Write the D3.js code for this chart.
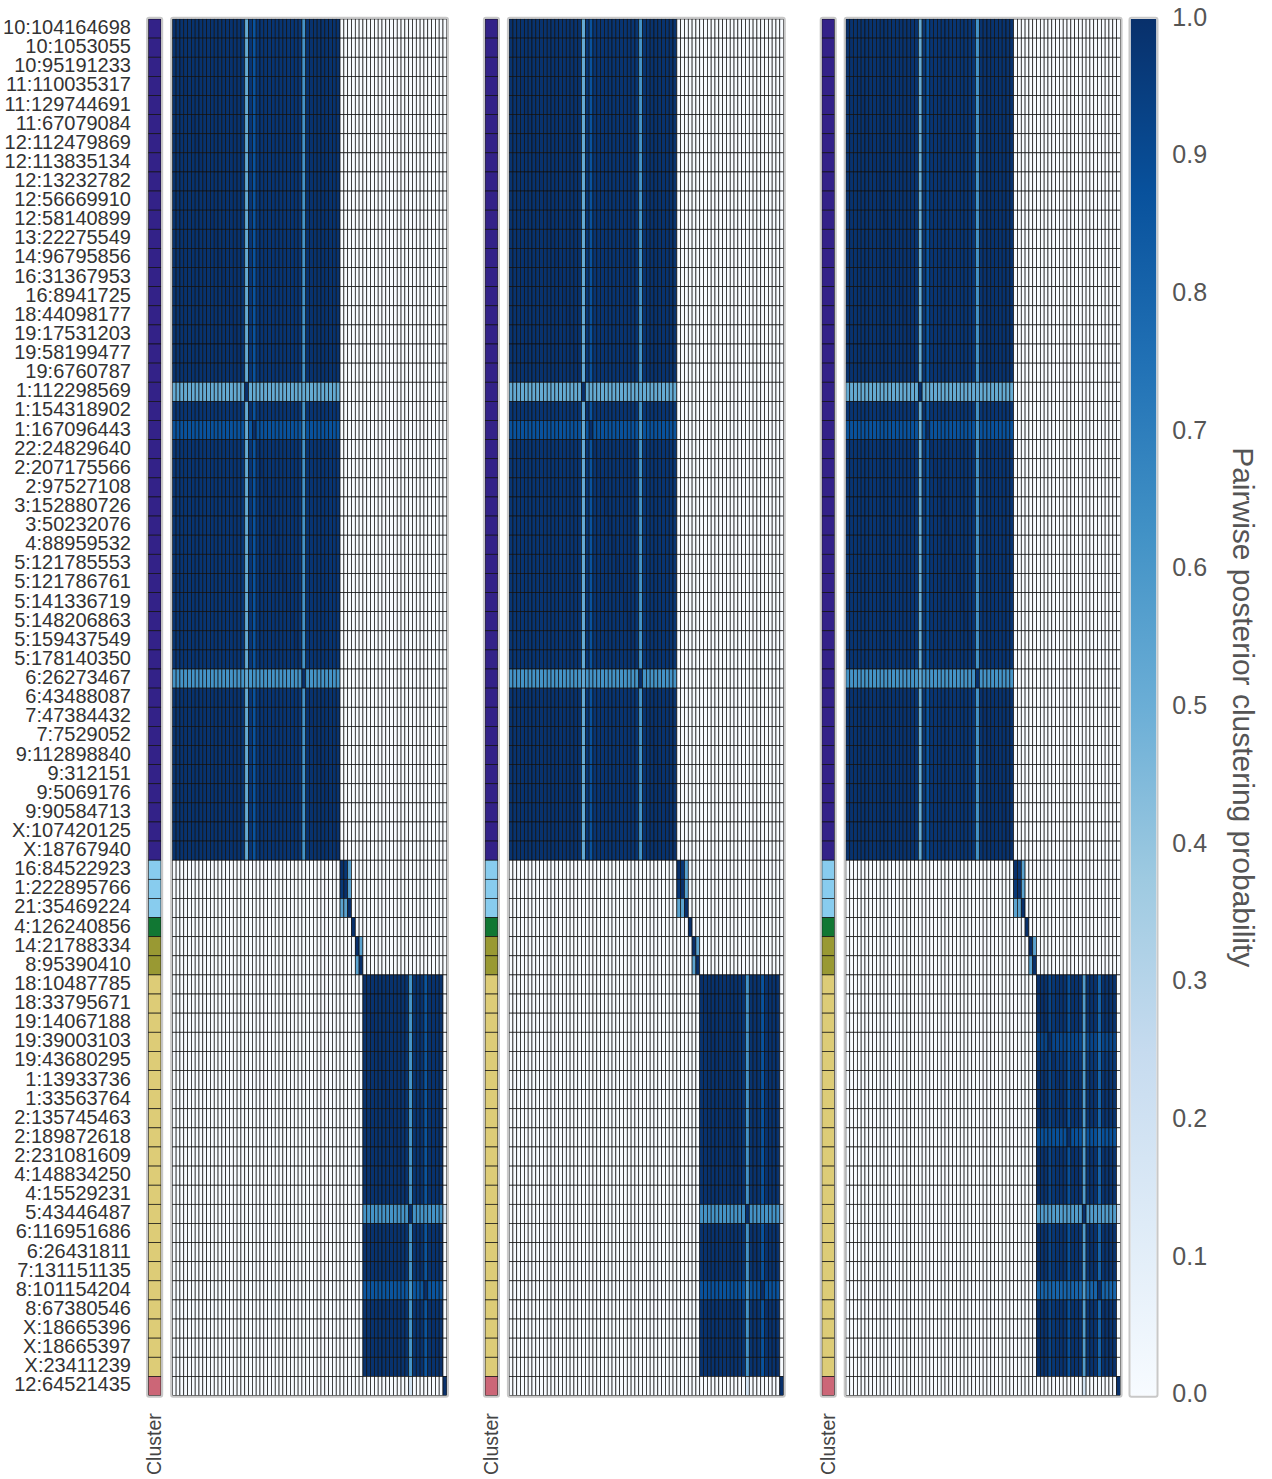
<!DOCTYPE html>
<html>
<head>
<meta charset="utf-8">
<script src="https://cdn.jsdelivr.net/npm/d3@7"></script>
<style>
  body { margin: 0; background: white; }
  text { font-family: "Liberation Sans", Arial, sans-serif; }
</style>
</head>
<body>
<div id="chart"></div>
<script>
// row / column labels (same order on both axes)
const rowLabels = [
  "10:104164698","10:1053055","10:95191233","11:110035317","11:129744691","11:67079084",
  "12:112479869","12:113835134","12:13232782","12:56669910","12:58140899","13:22275549",
  "14:96795856","16:31367953","16:8941725","18:44098177","19:17531203","19:58199477",
  "19:6760787","1:112298569","1:154318902","1:167096443","22:24829640","2:207175566",
  "2:97527108","3:152880726","3:50232076","4:88959532","5:121785553","5:121786761",
  "5:141336719","5:148206863","5:159437549","5:178140350","6:26273467","6:43488087",
  "7:47384432","7:7529052","9:112898840","9:312151","9:5069176","9:90584713",
  "X:107420125","X:18767940","16:84522923","1:222895766","21:35469224","4:126240856",
  "14:21788334","8:95390410","18:10487785","18:33795671","19:14067188","19:39003103",
  "19:43680295","1:13933736","1:33563764","2:135745463","2:189872618","2:231081609",
  "4:148834250","4:15529231","5:43446487","6:116951686","6:26431811","7:131151135",
  "8:101154204","8:67380546","X:18665396","X:18665397","X:23411239","12:64521435"
]

// cluster of each row
const clusters = [
  0,0,0,0,0,0,0,0,0,0,0,0,0,0,0,0,0,0,0,0,0,0,0,0,0,0,0,0,0,0,0,0,0,0,0,0,0,0,0,0,0,0,0,0,
  1,1,1, 2, 3,3,
  4,4,4,4,4,4,4,4,4,4,4,4,4,4,4,4,4,4,4,4,4,
  5
]
const clusterColors = ["#332288", "#88CCEE", "#117733", "#999933", "#DDCC77", "#CC6677"]

// how strongly each row sits in its cluster, one list per panel
const panel1 = [
  0.99,0.99,0.99,0.99,0.99,0.99,0.99,0.99,0.99,0.99,0.99,0.99,0.99,0.99,0.99,0.99,0.99,0.99,0.99,
  0.52,0.98,0.87,0.98,0.98,0.98,0.98,0.98,0.98,0.98,0.98,0.98,0.98,0.98,0.98,0.62,
  0.99,0.99,0.99,0.99,0.99,0.99,0.99,0.99,0.99,
  0.97,0.97,0.55, 1, 0.55,0.55,
  0.99,0.99,0.99,0.99,0.99,0.99,0.99,0.99,0.99,0.99,0.99,0.99,0.62,0.99,0.99,0.99,0.86,0.99,0.99,0.99,0.99,
  1
]
const panel2 = [
  0.99,0.99,0.99,0.99,0.99,0.99,0.99,0.99,0.99,0.99,0.99,0.99,0.99,0.99,0.99,0.99,0.99,0.99,0.99,
  0.52,0.98,0.87,0.98,0.98,0.98,0.98,0.98,0.98,0.98,0.98,0.98,0.98,0.98,0.98,0.62,
  0.99,0.99,0.99,0.99,0.99,0.99,0.99,0.99,0.99,
  0.97,0.97,0.55, 1, 0.55,0.55,
  0.99,0.99,0.99,0.99,0.99,0.99,0.99,0.99,0.99,0.99,0.99,0.99,0.62,0.99,0.99,0.99,0.87,0.99,0.99,0.99,0.99,
  1
]
const panel3 = [
  0.99,0.99,0.99,0.99,0.99,0.99,0.99,0.99,0.99,0.99,0.99,0.99,0.99,0.99,0.99,0.99,0.99,0.99,0.99,
  0.52,0.98,0.87,0.98,0.98,0.98,0.98,0.98,0.98,0.98,0.98,0.98,0.98,0.98,0.98,0.62,
  0.99,0.99,0.99,0.99,0.99,0.99,0.99,0.99,0.99,
  0.97,0.97,0.55, 1, 0.55,0.55,
  0.99,0.99,0.99,0.92,0.97,0.99,0.99,0.99,0.88,0.99,0.99,0.99,0.58,0.99,0.99,0.99,0.80,0.99,0.99,0.99,0.99,
  1
]
// pairs across clusters that still got some probability: [row, col, value] (1-based)
const crossPairs = [[72, 63, 0.18]]

const cbTicks = [0, 0.1, 0.2, 0.3, 0.4, 0.5, 0.6, 0.7, 0.8, 0.9, 1.0]
const bluesStops = ["#f7fbff","#deebf7","#c6dbef","#9ecae1","#6baed6","#4292c6","#2171b5","#08519c","#08306b"]

const n = rowLabels.length
const topY = 19, bottomY = 1395.5

const svg = d3.select("#chart").append("svg")
    .attr("width", 1272)
    .attr("height", 1479)

const color = d3.scaleLinear()
    .domain(bluesStops.map((c, i) => i / (bluesStops.length - 1)))
    .range(bluesStops)
    .clamp(true)

const y = d3.scaleBand().domain(d3.range(n)).range([topY, bottomY])

function buildMatrix(cert) {
    let m = []
    for (let i = 0; i < n; i++) {
        let row = []
        for (let j = 0; j < n; j++) {
            if (i == j) row.push(1)
            else if (clusters[i] == clusters[j]) row.push(Math.min(cert[i], cert[j]))
            else row.push(0)
        }
        m.push(row)
    }
    crossPairs.forEach(p => {
        m[p[0] - 1][p[1] - 1] = p[2]
        m[p[1] - 1][p[0] - 1] = p[2]
    })
    return m
}

const panels = [panel1, panel2, panel3]
const panelStep = 336.8

panels.forEach((cert, k) => {
    const off = k * panelStep
    const barX = 148.3 + off, barW = 12.7
    const hx0 = 172.3 + off, hx1 = 446.8 + off
    const x = d3.scaleBand().domain(d3.range(n)).range([hx0, hx1])
    const g = svg.append("g").attr("class", "panel")

    // cluster side bar
    g.selectAll(".clu")
        .data(clusters)
        .join("rect")
        .attr("class", "clu")
        .attr("x", barX)
        .attr("y", (d, i) => y(i))
        .attr("width", barW)
        .attr("height", y.bandwidth())
        .attr("fill", d => clusterColors[d])
        .attr("stroke", "#111")
        .attr("stroke-width", 0.7)

    g.append("rect")
        .attr("x", barX - 1.2).attr("y", topY - 1.2)
        .attr("width", barW + 2.4).attr("height", bottomY - topY + 2.4)
        .attr("rx", 2)
        .attr("fill", "none").attr("stroke", "#c8c8c8").attr("stroke-width", 2)

    // heatmap cells
    const m = buildMatrix(cert)
    const cells = []
    m.forEach((row, i) => row.forEach((v, j) => cells.push({ i: i, j: j, v: v })))

    g.selectAll(".cell")
        .data(cells)
        .join("rect")
        .attr("class", "cell")
        .attr("x", d => x(d.j))
        .attr("y", d => y(d.i))
        .attr("width", x.bandwidth())
        .attr("height", y.bandwidth())
        .attr("fill", d => color(d.v))
        .attr("stroke", "#111")
        .attr("stroke-width", 0.7)

    g.append("rect")
        .attr("x", hx0 - 1.2).attr("y", topY - 1.2)
        .attr("width", hx1 - hx0 + 2.4).attr("height", bottomY - topY + 2.4)
        .attr("rx", 2)
        .attr("fill", "none").attr("stroke", "#c8c8c8").attr("stroke-width", 2)

    g.append("text")
        .attr("transform", `translate(${barX + barW / 2 + 6.5},1475) rotate(-90)`)
        .attr("font-size", 19.5)
        .attr("fill", "#444")
        .text("Cluster")

    if (k == 0) {
        svg.append("g").selectAll(".rowlab")
            .data(rowLabels)
            .join("text")
            .attr("class", "rowlab")
            .attr("x", 131)
            .attr("y", (d, i) => y(i) + y.bandwidth() / 2 - 1.5)
            .attr("dy", "0.35em")
            .attr("text-anchor", "end")
            .attr("font-size", 20)
            .attr("fill", "#333")
            .text(d => d)
    }
})

// colour bar
const cbX = 1130.7, cbW = 25.6
const defs = svg.append("defs")
const grad = defs.append("linearGradient")
    .attr("id", "cbgrad")
    .attr("x1", 0).attr("y1", 1).attr("x2", 0).attr("y2", 0)
grad.selectAll("stop")
    .data(bluesStops)
    .join("stop")
    .attr("offset", (d, i) => i / (bluesStops.length - 1))
    .attr("stop-color", d => d)

svg.append("rect")
    .attr("x", cbX).attr("y", topY)
    .attr("width", cbW).attr("height", bottomY - topY)
    .attr("fill", "url(#cbgrad)")

svg.append("rect")
    .attr("x", cbX - 1.2).attr("y", topY - 1.2)
    .attr("width", cbW + 2.4).attr("height", bottomY - topY + 2.4)
    .attr("rx", 2)
    .attr("fill", "none").attr("stroke", "#c8c8c8").attr("stroke-width", 2)

const cbScale = d3.scaleLinear().domain([0, 1]).range([bottomY, topY])
const cbAxis = svg.append("g")
    .attr("transform", `translate(${cbX + cbW + 16},0)`)
    .call(d3.axisRight(cbScale).tickValues(cbTicks).tickFormat(d3.format(".1f")).tickSize(0))
cbAxis.select(".domain").remove()
cbAxis.selectAll("text")
    .attr("x", 0)
    .attr("dy", "0.25em")
    .attr("font-size", 25)
    .attr("font-family", "Liberation Sans, Arial, sans-serif")
    .attr("fill", "#555")

svg.append("text")
    .attr("transform", `translate(1233,${(topY + bottomY) / 2}) rotate(90)`)
    .attr("text-anchor", "middle")
    .attr("font-size", 30)
    .attr("fill", "#555")
    .text("Pairwise posterior clustering probability")
</script>
</body>
</html>
